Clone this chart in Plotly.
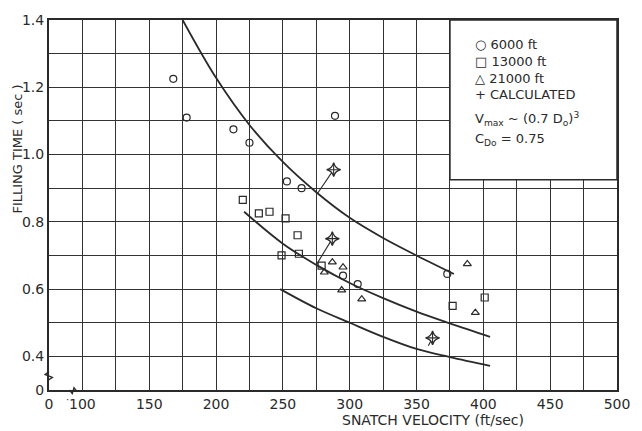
import plotly.graph_objects as go

# ---- data ----
alt6000_x = [168, 178, 213, 225, 253, 264, 289, 295, 306, 373]
alt6000_y = [1.225, 1.11, 1.075, 1.035, 0.92, 0.90, 1.115, 0.64, 0.615, 0.645]

alt13000_x = [220, 232, 240, 252, 261, 249, 262, 279, 377, 401]
alt13000_y = [0.865, 0.825, 0.83, 0.81, 0.76, 0.70, 0.705, 0.67, 0.55, 0.575]

alt21000_x = [287, 281, 295, 294, 309, 388, 394]
alt21000_y = [0.68, 0.65, 0.665, 0.597, 0.57, 0.675, 0.53]

calc_x = [288, 287, 362]
calc_y = [0.955, 0.75, 0.455]
calc_target_x = [276, 275, 357]
calc_target_y = [0.885, 0.672, 0.418]
calc_dash = ["solid", "solid", "dash"]

curve_top_x = [175, 200, 225, 250, 275, 300, 325, 350, 378]
curve_top_y = [1.40, 1.228, 1.088, 0.978, 0.888, 0.812, 0.752, 0.700, 0.645]

curve_mid_x = [221, 250, 275, 300, 325, 350, 375, 405]
curve_mid_y = [0.83, 0.735, 0.672, 0.618, 0.573, 0.533, 0.498, 0.458]

curve_low_x = [248, 275, 300, 325, 350, 375, 405]
curve_low_y = [0.600, 0.543, 0.500, 0.458, 0.422, 0.398, 0.372]

x_tickvals = [75, 100, 150, 200, 250, 300, 350, 400, 450, 500]
x_ticktext = ["0", "100", "150", "200", "250", "300", "350", "400", "450", "500"]
y_tickvals = [0.3, 0.4, 0.6, 0.8, 1.0, 1.2, 1.4]
y_ticktext = ["0", "0.4", "0.6", "0.8", "1.0", "1.2", "1.4"]

legend_lines = ["\u25CB 6000 ft", "\u25A1 13000 ft", "\u25B3 21000 ft", "+ CALCULATED",
                "V<sub>max</sub> ~ (0.7 D<sub>o</sub>)<sup>3</sup>", "C<sub>Do</sub> = 0.75"]

INK = "#2a2a2a"
FONT = "DejaVu Sans"

fig = go.Figure()

for cx, cy in [(curve_top_x, curve_top_y), (curve_mid_x, curve_mid_y), (curve_low_x, curve_low_y)]:
    fig.add_trace(go.Scatter(x=cx, y=cy, mode="lines", line=dict(color=INK, width=1.8, shape="spline"),
                             showlegend=False, hoverinfo="skip"))

# leader lines from calculated points to the curves
for sx, sy, tx, ty, d in zip(calc_x, calc_y, calc_target_x, calc_target_y, calc_dash):
    fig.add_trace(go.Scatter(x=[sx, tx], y=[sy, ty], mode="lines",
                             line=dict(color=INK, width=1.1, dash=d),
                             showlegend=False, hoverinfo="skip"))

mk = dict(color=INK, size=7, line=dict(color=INK, width=1.2))
fig.add_trace(go.Scatter(x=alt6000_x, y=alt6000_y, mode="markers", name="6000 ft",
                         marker=dict(symbol="circle-open", **mk)))
fig.add_trace(go.Scatter(x=alt13000_x, y=alt13000_y, mode="markers", name="13000 ft",
                         marker=dict(symbol="square-open", **mk)))
fig.add_trace(go.Scatter(x=alt21000_x, y=alt21000_y, mode="markers", name="21000 ft",
                         marker=dict(symbol="triangle-up-open", **mk)))
fig.add_trace(go.Scatter(x=calc_x, y=calc_y, mode="markers", name="CALCULATED",
                         marker=dict(symbol="star-diamond", color="white", size=10,
                                     line=dict(color=INK, width=1.3))))
fig.add_trace(go.Scatter(x=calc_x, y=calc_y, mode="markers", showlegend=False, hoverinfo="skip",
                         marker=dict(symbol="cross-thin-open", color=INK, size=9,
                                     line=dict(color=INK, width=1.1))))

annotations = []
# legend box text
legend_py = [42, 59, 76, 92, 117, 137]
for txt, py in zip(legend_lines, legend_py):
    annotations.append(dict(x=(481 - 49) / 579, y=(390 - py) / 373, xref="paper", yref="paper",
                            text=txt, showarrow=False, xanchor="left", yanchor="middle",
                            font=dict(family=FONT, size=13, color=INK)))

# axis titles
annotations.append(dict(x=(440 - 49) / 579, y=(390 - 420) / 373, xref="paper", yref="paper",
                        text="SNATCH VELOCITY (ft/sec)", showarrow=False, xanchor="center", yanchor="middle",
                        font=dict(family=FONT, size=14, color=INK)))
annotations.append(dict(x=(17 - 49) / 579, y=(390 - 147) / 373, xref="paper", yref="paper",
                        text="FILLING TIME ( sec )", textangle=-90, showarrow=False,
                        xanchor="center", yanchor="middle",
                        font=dict(family=FONT, size=13, color=INK)))
annotations.append(dict(x=(64 - 49) / 579, y=(390 - 407) / 373, xref="paper", yref="paper",
                        text="\u00B7", showarrow=False, font=dict(family=FONT, size=10, color=INK)))

shapes = [
    dict(type="rect", xref="x", yref="y", x0=375, x1=500, y0=0.925, y1=1.4,
         fillcolor="white", line=dict(color=INK, width=1.5), layer="above"),
    # axis break marks
    dict(type="path", xref="paper", yref="paper",
         path="M 0,0.05 L -0.007,0.042 L 0.006,0.034 L -0.002,0.026",
         line=dict(color=INK, width=1.3), layer="above"),
    dict(type="path", xref="paper", yref="paper",
         path="M 0.036,0 L 0.041,-0.01 L 0.044,0.006 L 0.049,-0.004",
         line=dict(color=INK, width=1.3), layer="above"),
]

axis_style = dict(showgrid=True, gridcolor="#333333", gridwidth=1.3, zeroline=False,
                  showline=True, linecolor=INK, linewidth=2, mirror=True, ticks="",
                  tickfont=dict(family=FONT, size=14, color=INK))

fig.update_layout(
    width=642, height=431,
    margin=dict(l=49, r=14, t=17, b=41),
    paper_bgcolor="white", plot_bgcolor="white",
    showlegend=False,
    xaxis=dict(range=[75, 500], tickmode="array", tickvals=x_tickvals, ticktext=x_ticktext,
               minor=dict(tick0=75, dtick=25, showgrid=True, gridcolor="#333333", gridwidth=1.3, ticks=""),
               **axis_style),
    yaxis=dict(range=[0.3, 1.4], tickmode="array", tickvals=y_tickvals, ticktext=y_ticktext,
               minor=dict(tick0=0.3, dtick=0.1, showgrid=True, gridcolor="#333333", gridwidth=1.3, ticks=""),
               **axis_style),
    annotations=annotations,
    shapes=shapes,
)

fig.write_html("out.html")
